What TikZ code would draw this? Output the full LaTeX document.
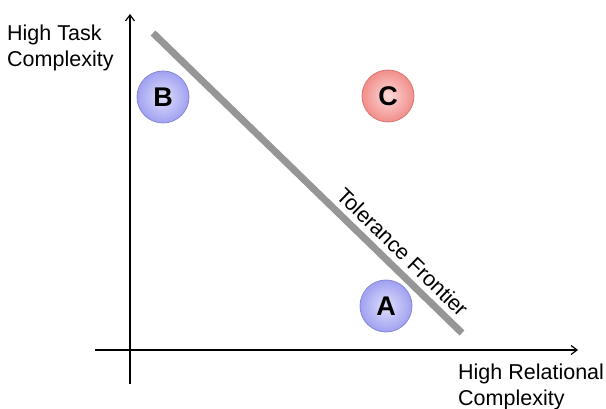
\documentclass[tikz,border=0pt]{standalone}
\usepackage{fontspec}
\setmainfont{Liberation Sans}
\usetikzlibrary{arrows.meta}
\begin{document}
\begin{tikzpicture}[x=1pt, y=-1pt, >={Straight Barb[length=6pt,width=9pt]},
	ball/.style={circle, minimum size=52pt, inner sep=0pt, line width=0.8pt, font=\fontsize{27}{27}\selectfont\bfseries},
	axlabel/.style={align=left, font=\fontsize{21.5}{26}\selectfont, inner sep=0pt, anchor=north west}]
		\definecolor{ballblue}{RGB}{150, 150, 240}
		\definecolor{ballred}{RGB}{240, 130, 125}
		\definecolor{frontgray}{RGB}{150, 150, 150}
		\useasboundingbox (0,0) rectangle (606,409);
		
		% axes
		\coordinate (xs) at (95,350);
		\coordinate (xe) at (578,350);
		\coordinate (ys) at (130,384);
		\coordinate (ye) at (130,14);
		\draw[->, line width=1.2pt] (xs) -- (xe);
		\draw[->, line width=1.2pt] (ys) -- (ye);
		
		% axis labels
		\node[axlabel] (ylab) at (7,25) {High Task\\Complexity};
		\node[axlabel] (xlab) at (458,364) {High Relational\\Complexity};
		
		% tolerance frontier
		\coordinate (fs) at (153,33);
		\coordinate (fe) at (462,333);
		\draw[frontgray, line width=7pt] (fs) -- (fe)
			node[pos=0.77, sloped, above=2pt, black, font=\fontsize{21.5}{21.5}\selectfont] (tol) {Tolerance Frontier};
		
		% the three points
		\node[ball, draw=ballblue!90!black, inner color=ballblue!30, outer color=ballblue!90] (B) at (163,97) {B};
		\node[ball, draw=ballred!90!black, inner color=ballred!30, outer color=ballred!90] (C) at (388,96) {C};
		\node[ball, draw=ballblue!90!black, inner color=ballblue!30, outer color=ballblue!90] (A) at (386,306) {A};
	\end{tikzpicture}
\end{document}
